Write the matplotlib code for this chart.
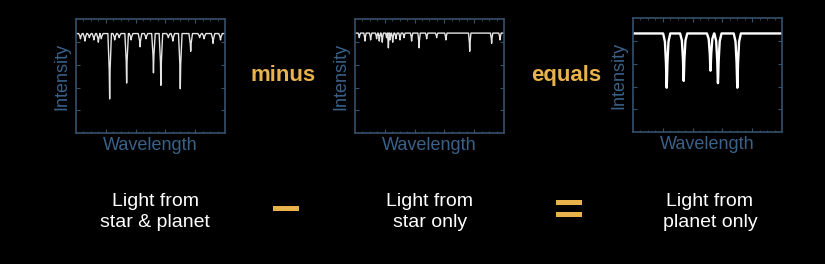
import numpy as np
import matplotlib
matplotlib.use('Agg')
import matplotlib.pyplot as plt
from matplotlib.patches import Rectangle

# Panel 1: light from star & planet (line centre, line bottom)
mix_centres = [0.03, 0.06, 0.09, 0.12, 0.15, 0.17, 0.226, 0.26, 0.29, 0.34, 0.37,
               0.43, 0.47, 0.52, 0.57, 0.62, 0.65, 0.70, 0.77, 0.83, 0.86, 0.92, 0.97]
mix_bottoms = [0.83, 0.81, 0.84, 0.82, 0.80, 0.83, 0.30, 0.82, 0.84, 0.44, 0.82,
               0.76, 0.83, 0.53, 0.42, 0.84, 0.81, 0.39, 0.72, 0.84, 0.83, 0.79, 0.82]
mix_continuum = 0.876

# Panel 2: light from star only
star_centres = [0.029, 0.067, 0.105, 0.145, 0.163, 0.183, 0.212, 0.224, 0.235, 0.253,
                0.275, 0.302, 0.329, 0.38, 0.43, 0.481, 0.548, 0.61, 0.77, 0.917, 0.973]
star_bottoms = [0.84, 0.81, 0.82, 0.83, 0.81, 0.80, 0.84, 0.75, 0.82, 0.80,
                0.83, 0.82, 0.84, 0.81, 0.75, 0.83, 0.84, 0.82, 0.72, 0.79, 0.82]
star_continuum = 0.88

# Panel 3: light from planet only
planet_centres = [0.226, 0.34, 0.52, 0.57, 0.70]
planet_bottoms = [0.39, 0.45, 0.54, 0.43, 0.39]
planet_continuum = 0.868

captions = ['Light from\nstar & planet', 'Light from\nstar only', 'Light from\nplanet only']
operators = ['minus', 'equals']

BG = 'black'
AXCOL = '#34506b'
LABCOL = '#3a6188'
ORANGE = '#e8b34c'


def spectrum(cont, centres, bottoms, hw, shape):
    # polyline through continuum and each absorption line bottom
    xs, ys = [0.0], [cont]
    for c, b in zip(centres, bottoms):
        d = cont - b
        for f, g in shape[::-1]:
            xs.append(c - f * hw)
            ys.append(cont - g * d)
        xs.append(c)
        ys.append(b)
        for f, g in shape:
            xs.append(c + f * hw)
            ys.append(cont - g * d)
    xs.append(1.0)
    ys.append(cont)
    return np.array(xs), np.array(ys)


sharp = [(0.25, 0.55), (1.0, 0.0)]
round_ = [(0.06, 0.9), (0.2, 0.55), (0.5, 0.15), (1.0, 0.0)]

fig = plt.figure(figsize=(8.25, 2.64), dpi=100)
fig.patch.set_facecolor(BG)

boxes = [(0.0921, 0.4962), (0.4303, 0.4962), (0.7673, 0.50)]
panels = [
    spectrum(mix_continuum, mix_centres, mix_bottoms, 0.012, sharp),
    spectrum(star_continuum, star_centres, star_bottoms, 0.008, sharp),
    spectrum(planet_continuum, planet_centres, planet_bottoms, 0.024, round_),
]
widths = [1.0, 1.0, 1.7]
colors = ['#e4e4e4', '#e4e4e4', 'white']

for (l, b), (x, y), lw, col in zip(boxes, panels, widths, colors):
    ax = fig.add_axes([l, b, 0.1806, 0.43])
    ax.set_facecolor(BG)
    ax.plot(x, y, color=col, lw=lw)
    ax.set_xlim(0, 1)
    ax.set_ylim(0, 1)
    ax.set_xticks(np.arange(0.2, 1.0, 0.2))
    ax.set_yticks(np.arange(0.2, 1.0, 0.2))
    ax.set_xticks(np.arange(0.05, 1.0, 0.05), minor=True)
    ax.tick_params(which='both', direction='in', color=AXCOL, top=True, right=True,
                   labelleft=False, labelbottom=False)
    ax.tick_params(which='major', length=3, width=0.8)
    ax.tick_params(which='minor', length=1.5, width=0.6)
    for s in ax.spines.values():
        s.set_color(AXCOL)
        s.set_linewidth(1.2)
    ax.set_ylabel('Intensity', color=LABCOL, fontsize=13, family='Liberation Sans', labelpad=4)
    ax.set_xlabel('Wavelength', color=LABCOL, fontsize=13, family='Liberation Sans', labelpad=3)

# operator words
for xpos, word in zip([283 / 825, 566 / 825], operators):
    fig.text(xpos, 1 - 75 / 264, word, color=ORANGE, fontsize=16, fontweight='bold',
             family='Liberation Sans', ha='center', va='center')

# captions
for xpos, cap in zip([155 / 825, 430 / 825, 710 / 825], captions):
    fig.text(xpos, 1 - 212 / 264, cap, color='white', fontsize=14, family='Liberation Sans',
             ha='center', va='center', linespacing=1.35)

# minus and equals signs
for x0, y0 in [(273, 206), (556, 200), (556, 212)]:
    fig.add_artist(Rectangle((x0 / 825, 1 - (y0 + 5) / 264), 26 / 825, 5 / 264,
                             transform=fig.transFigure, color=ORANGE, lw=0))

fig.savefig('out.png', dpi=100, facecolor=BG)
